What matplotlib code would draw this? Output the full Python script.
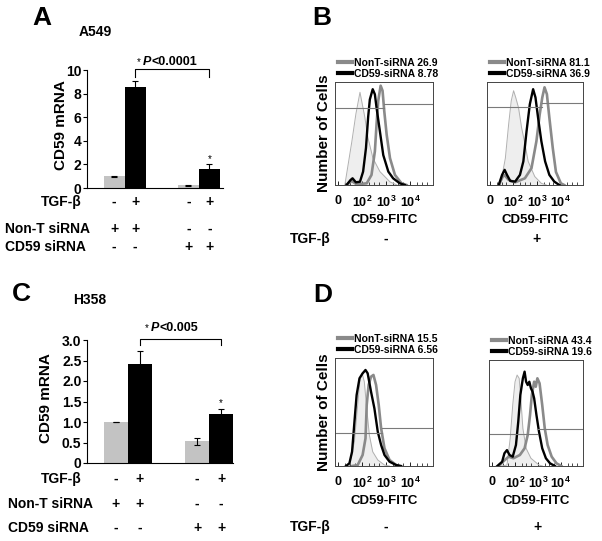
import matplotlib
matplotlib.use("Agg")
import matplotlib.pyplot as plt
from matplotlib.lines import Line2D
from matplotlib.transforms import blended_transform_factory

plt.rcParams['font.family'] = ['Liberation Sans', 'DejaVu Sans']
plt.rcParams['font.weight'] = 'bold'
plt.rcParams['axes.labelweight'] = 'bold'
plt.rcParams['mathtext.fontset'] = 'custom'
plt.rcParams['mathtext.bf'] = 'Liberation Sans:bold'
plt.rcParams['mathtext.rm'] = 'Liberation Sans:bold'

W, H = 602, 541

# ---- bar chart data (A = A549, C = H358) ----
bar_x_a = [1.3, 2.3, 4.85, 5.85]
a549_mrna = [1.0, 8.55, 0.22, 1.6]
a549_err = [0.03, 0.5, 0.04, 0.4]
bar_x_c = [1.2, 2.2, 4.6, 5.6]
h358_mrna = [1.0, 2.41, 0.53, 1.2]
h358_err = [0.01, 0.32, 0.09, 0.12]
bar_colors = ['#c3c3c3', 'black', '#c3c3c3', 'black']
tgf_row = ['-', '+', '-', '+']
nont_row = ['+', '+', '-', '-']
cd59_row = ['-', '-', '+', '+']

# ---- flow histograms, x in decades (0, 10^2, 10^3, 10^4 -> 0,1,2,3), y in % of max ----
bl_iso_u = [0.29, 0.58, 0.75, 0.92, 1.12, 1.25, 1.46, 1.75, 2.17, 2.46]
bl_iso_y = [0, 42, 69, 90, 66, 46, 26, 13, 3, 0]
bl_nont_u = [0.36, 0.57, 0.78, 1.20, 1.40, 1.54, 1.61, 1.68, 1.78, 1.86, 1.93, 2.03, 2.17, 2.375, 2.65, 2.86]
bl_nont_y = [0, 3.9, 0.7, 1.6, 9.8, 32.7, 59, 81.7, 96.4, 91.5, 71.9, 49, 26, 9.8, 1.6, 0]
bl_cd59_u = [0.36, 0.53, 0.61, 0.75, 0.92, 1.05, 1.17, 1.26, 1.33, 1.45, 1.54, 1.61, 1.75, 1.89, 2.10, 2.30, 2.58, 2.79]
bl_cd59_y = [0, 4.9, 6.5, 2.6, 3.2, 13, 36, 66, 83, 93, 88, 75, 52, 29, 13, 6.5, 1.6, 0]

br_iso_u = [0.45, 0.66, 0.80, 0.91, 1.01, 1.10, 1.22, 1.35, 1.47, 1.63, 1.91, 2.19, 2.40]
br_iso_y = [0, 26, 59, 81.7, 91.5, 85, 75, 55.6, 42.5, 22.9, 8.2, 1.6, 0]
br_nont_u = [0.38, 0.55, 0.63, 0.80, 1.075, 1.49, 1.77, 1.98, 2.12, 2.23, 2.325, 2.425, 2.53, 2.675, 2.81, 3.02, 3.16]
br_nont_y = [0, 8.2, 9.5, 5, 2.6, 6.5, 16.3, 42.5, 68.6, 85, 94.8, 88.2, 65.4, 35.9, 12.7, 1.6, 0]
br_cd59_u = [0.38, 0.52, 0.63, 0.73, 0.87, 1.075, 1.28, 1.425, 1.56, 1.70, 1.84, 1.94, 2.05, 2.19, 2.35, 2.53, 2.74, 2.95]
br_cd59_y = [0, 9.8, 14.7, 9.8, 3.9, 3.3, 9.8, 22.9, 52, 78.4, 93, 85, 65.4, 42.5, 22.9, 9.8, 3.3, 0]

dl_iso_u = [0.48, 0.69, 0.825, 0.925, 1.01, 1.10, 1.20, 1.31, 1.45, 1.66, 1.94, 2.15]
dl_iso_y = [0, 22.5, 56.7, 81.2, 85.8, 78, 53.4, 28.7, 13.2, 5.6, 0.9, 0]
dl_nont_u = [0.6, 0.825, 1.03, 1.15, 1.20, 1.28, 1.38, 1.48, 1.59, 1.70, 1.80, 1.94, 2.15, 2.425, 2.56]
dl_nont_y = [0, 0.9, 10.2, 25.6, 56.5, 75, 82.7, 84.3, 75, 56.5, 34.9, 16.4, 5.6, 0.9, 0]
dl_cd59_u = [0.34, 0.48, 0.59, 0.69, 0.78, 0.90, 1.03, 1.15, 1.24, 1.38, 1.52, 1.66, 1.80, 1.94, 2.15, 2.425, 2.63]
dl_cd59_y = [0, 2.5, 13.2, 41, 65.7, 81.2, 85.8, 88.9, 85.8, 68.8, 53.4, 31.8, 19.4, 10.2, 4, 0.9, 0]

dr_iso_u = [0.44, 0.66, 0.80, 0.91, 1.01, 1.10, 1.19, 1.26, 1.35, 1.49, 1.70, 2.05, 2.20]
dr_iso_y = [0, 0.9, 26, 57.5, 79.5, 85.8, 82.7, 63.8, 35.5, 16.7, 7.3, 0.9, 0]
dr_nont_u = [0.31, 0.52, 0.73, 0.94, 1.22, 1.425, 1.56, 1.66, 1.74, 1.84, 1.91, 1.98, 2.075, 2.19, 2.30, 2.425, 2.60, 2.81, 3.02]
dr_nont_y = [0, 4.7, 8.8, 7.3, 10.4, 16.7, 29.2, 48, 67, 79.5, 74.8, 82.7, 78, 57.5, 35.5, 19.8, 8.8, 2.5, 0]
dr_cd59_u = [0.24, 0.45, 0.55, 0.66, 0.77, 0.91, 1.05, 1.15, 1.24, 1.35, 1.425, 1.49, 1.56, 1.63, 1.70, 1.77, 1.84, 1.94, 2.05, 2.19, 2.35, 2.53, 2.74]
dr_cd59_y = [0, 4, 12, 15, 10.4, 8.8, 19.8, 41.8, 67, 82.7, 89, 79.5, 76.4, 79.5, 73.3, 70.1, 63.8, 48, 32.4, 16.7, 7.3, 2.5, 0]

# gate line: left level, right level, step position
gate_bl = [74.5, 78.4, 1.9]
gate_br = [75.5, 79.4, 2.2]
gate_dl = [30.8, 35.5, 1.85]
gate_dr = [30.2, 34.9, 1.98]

mfi_b = [["NonT-siRNA 26.9", "CD59-siRNA 8.78"], ["NonT-siRNA 81.1", "CD59-siRNA 36.9"]]
mfi_d = [["NonT-siRNA 15.5", "CD59-siRNA 6.56"], ["NonT-siRNA 43.4", "CD59-siRNA 19.6"]]
flow_ticklabels = ["0", r"$\mathbf{10^2}$", r"$\mathbf{10^3}$", r"$\mathbf{10^4}$"]

fig = plt.figure(figsize=(W / 100, H / 100), dpi=100)


def rect(l, t, r, b):
    return [l / W, 1 - b / H, (r - l) / W, (b - t) / H]


def fy(y):
    return 1 - y / H


def bar_panel(box, xs, vals, errs, ymax, yticks, ylabels, xmax, labx):
    ax = fig.add_axes(rect(*box))
    ax.bar(xs, vals, width=1.0, color=bar_colors, edgecolor='none')
    ax.errorbar(xs, vals, yerr=errs, fmt='none', ecolor='black', elinewidth=0.8,
                capsize=2, capthick=0.8)
    ax.set_xlim(0, xmax)
    ax.set_ylim(0, ymax)
    ax.spines[['top', 'right']].set_visible(False)
    ax.spines[['left', 'bottom']].set_linewidth(0.8)
    ax.set_xticks([])
    ax.set_yticks(yticks)
    ax.set_yticklabels(ylabels)
    ax.tick_params(axis='y', length=3, width=0.8, labelsize=10, pad=1)
    ax.set_ylabel('CD59 mRNA', fontsize=11)
    ax.yaxis.set_label_coords(labx, 0.53)
    return ax


def row_marks(ax, xs, rows, ys, names, name_x):
    tr = blended_transform_factory(ax.transData, fig.transFigure)
    for marks, y, name, nx in zip(rows, ys, names, name_x):
        ha = 'right' if name.startswith('TGF') else 'left'
        fig.text(nx / W, fy(y), name, ha=ha, va='center', fontsize=10)
        for x, m in zip(xs, marks):
            ax.text(x, fy(y), m, transform=tr, ha='center', va='center', fontsize=10)


def p_text(x0, y, p):
    fig.text(x0 / W, fy(y), '*', fontsize=7, weight='normal', va='center')
    fig.text((x0 + 6) / W, fy(y), 'P', fontsize=9, style='italic', va='center')
    fig.text((x0 + 15) / W, fy(y), p, fontsize=9, va='center')


def flow_panel(box, iso, nont, cd59, gate, labels):
    ax = fig.add_axes(rect(*box))
    ax.fill_between(iso[0], iso[1], color='#eeeeee', lw=0)
    ax.plot(iso[0], iso[1], color='#b0b0b0', lw=0.7)
    ax.plot(nont[0], nont[1], color='#8a8a8a', lw=1.9)
    ax.plot(cd59[0], cd59[1], color='black', lw=1.7)
    ax.plot([-0.12, gate[2]], [gate[0], gate[0]], color='#7a7a7a', lw=0.8)
    ax.plot([gate[2], 3.96], [gate[1], gate[1]], color='#7a7a7a', lw=0.8)
    ax.set_xlim(-0.12, 3.96)
    ax.set_ylim(0, 100)
    ax.set_yticks([])
    ax.set_xticks([0, 1, 2, 3])
    ax.set_xticklabels(flow_ticklabels)
    ax.set_xticks([0.3, 0.5, 0.7, 1.3, 1.5, 1.7, 2.3, 2.5, 2.7, 3.3, 3.5, 3.7], minor=True)
    ax.tick_params(axis='x', which='major', direction='in', length=3, width=0.6,
                   labelsize=9, pad=7)
    ax.tick_params(axis='x', which='minor', direction='in', length=2, width=0.5)
    for s in ax.spines.values():
        s.set_linewidth(0.7)
        s.set_color('#444444')
    ax.set_xlabel('CD59-FITC', fontsize=9.5, labelpad=3)
    handles = [Line2D([], [], color='#8a8a8a', lw=3), Line2D([], [], color='black', lw=3)]
    ax.legend(handles, labels, loc='lower left', bbox_to_anchor=(0.0, 1.0), frameon=False,
              handlelength=1.3, handletextpad=0.2, labelspacing=0.1, borderaxespad=0.3,
              borderpad=0, fontsize=7.5)
    return ax


# ---- panel A ----
ax_a = bar_panel((87, 70, 223, 188), bar_x_a, a549_mrna, a549_err, 10,
                 [0, 2, 4, 6, 8, 10], ['0', '2', '4', '6', '8', '10'], 6.5, -0.14)
ax_a.plot([bar_x_a[1], bar_x_a[1], bar_x_a[3], bar_x_a[3]], [9.38, 10.08, 10.08, 9.38],
          color='black', lw=0.8, clip_on=False)
ax_a.text(bar_x_a[3], 2.2, '*', ha='center', fontsize=7, weight='normal')
p_text(137, 62, '<0.0001')
row_marks(ax_a, bar_x_a, [tgf_row, nont_row, cd59_row], [202, 229, 247],
          ['TGF-β', 'Non-T siRNA', 'CD59 siRNA'], [82, 5, 5])

# ---- panel C ----
ax_c = bar_panel((87, 340, 233, 463), bar_x_c, h358_mrna, h358_err, 3.0,
                 [0, 0.5, 1, 1.5, 2, 2.5, 3], ['0', '0.5', '1.0', '1.5', '2.0', '2.5', '3.0'],
                 6.1, -0.23)
ax_c.plot([bar_x_c[1], bar_x_c[1], bar_x_c[3], bar_x_c[3]], [2.88, 3.02, 3.02, 2.88],
          color='black', lw=0.8, clip_on=False)
ax_c.text(bar_x_c[3], 1.38, '*', ha='center', fontsize=7, weight='normal')
p_text(145, 328, '<0.005')
row_marks(ax_c, bar_x_c, [tgf_row, nont_row, cd59_row], [479, 504, 528],
          ['TGF-β', 'Non-T siRNA', 'CD59 siRNA'], [82, 8, 8])

# ---- panel B ----
ax_bl = flow_panel((335, 82, 433, 185), (bl_iso_u, bl_iso_y), (bl_nont_u, bl_nont_y),
                   (bl_cd59_u, bl_cd59_y), gate_bl, mfi_b[0])
ax_br = flow_panel((487, 82, 583, 185), (br_iso_u, br_iso_y), (br_nont_u, br_nont_y),
                   (br_cd59_u, br_cd59_y), gate_br, mfi_b[1])
ax_bl.set_ylabel('Number of Cells', fontsize=11, labelpad=3)

# ---- panel D ----
ax_dl = flow_panel((335, 358, 433, 466), (dl_iso_u, dl_iso_y), (dl_nont_u, dl_nont_y),
                   (dl_cd59_u, dl_cd59_y), gate_dl, mfi_d[0])
ax_dr = flow_panel((489, 360, 583, 466), (dr_iso_u, dr_iso_y), (dr_nont_u, dr_nont_y),
                   (dr_cd59_u, dr_cd59_y), gate_dr, mfi_d[1])
ax_dl.set_ylabel('Number of Cells', fontsize=11, labelpad=3)

for axes, y in [((ax_bl, ax_br), 239), ((ax_dl, ax_dr), 527)]:
    fig.text(290 / W, fy(y), 'TGF-β', ha='left', va='center', fontsize=10)
    for ax, m in zip(axes, ['-', '+']):
        tr = blended_transform_factory(ax.transAxes, fig.transFigure)
        ax.text(0.52, fy(y), m, transform=tr, ha='center', va='center', fontsize=10)

# panel letters and cell lines
for letter, x, y in [('A', 32, 18), ('B', 312, 18), ('C', 12, 294), ('D', 313, 295)]:
    fig.text(x / W, fy(y), letter, fontsize=19, va='center', ha='left')
fig.text(79 / W, fy(32), 'A549', fontsize=10, va='center')
fig.text(73 / W, fy(300), 'H358', fontsize=10, va='center')

fig.savefig('out.png', dpi=100)
